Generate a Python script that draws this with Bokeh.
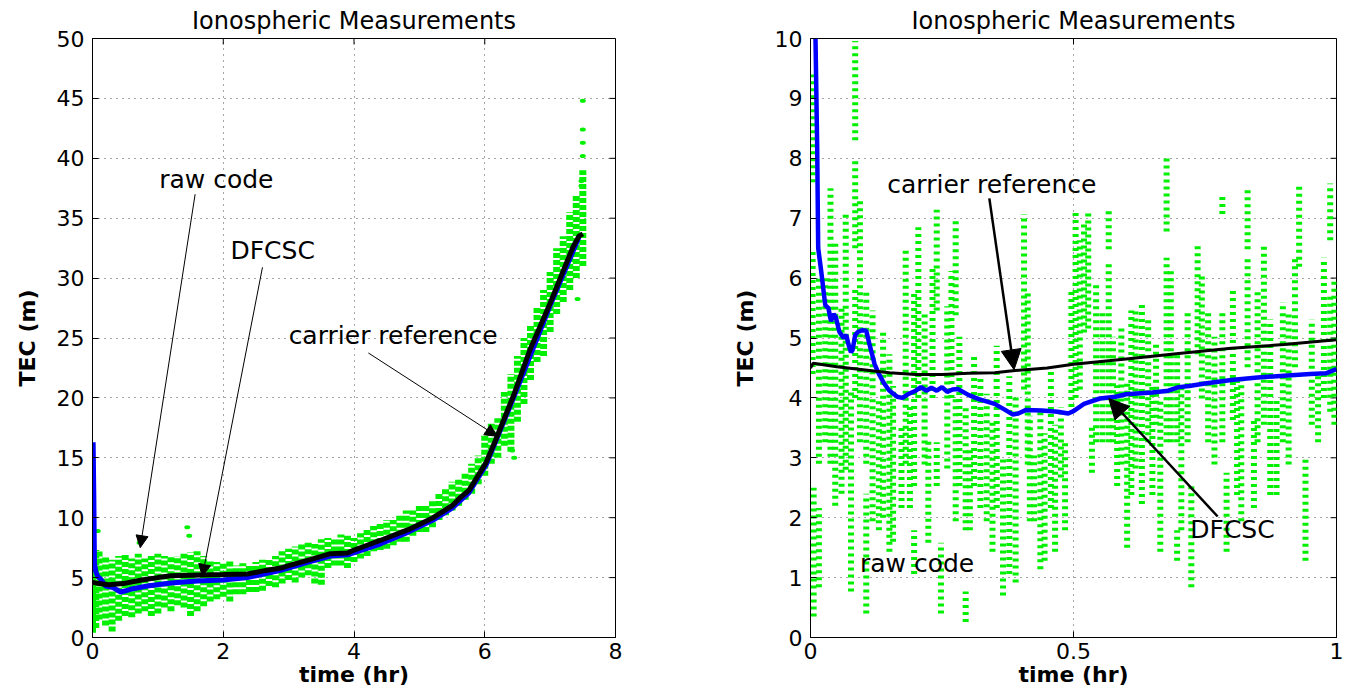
import math
from bokeh.plotting import figure
from bokeh.models import (FixedTicker, Arrow, NormalHead, Label,
                          Range1d, NumeralTickFormatter)
from bokeh.layouts import row
from bokeh.embed import file_html
from bokeh.resources import INLINE

# ---------------- data: left panel (full pass) ----------------
left_ref_t = [0, 0.1, 0.25, 0.47, 0.75, 1.0, 1.2, 1.5, 2.0, 2.37, 2.65, 2.88, 3.0, 3.33,
              3.64, 3.9, 4.0, 4.2, 4.4, 4.83, 5.21, 5.5, 5.63, 5.76, 6.02, 6.16, 6.3,
              6.44, 6.69, 7.0, 7.2, 7.35, 7.44, 7.5]
left_ref_y = [4.6, 4.5, 4.4, 4.5, 4.8, 5.0, 5.15, 5.2, 5.25, 5.3, 5.6, 5.8, 6.0, 6.5,
              7.0, 7.05, 7.3, 7.7, 8.1, 9.0, 10.0, 11.0, 11.7, 12.3, 14.6, 16.4, 18.3,
              20.2, 24.0, 27.9, 30.6, 32.6, 33.5, 33.7]

left_dfcsc_t = [0.01, 0.02, 0.03, 0.05, 0.08, 0.12, 0.2, 0.3, 0.43, 0.51, 0.6, 0.84, 1.2,
                1.6, 2.0, 2.37, 2.88, 3.3, 3.64, 3.9, 4.4, 4.83, 5.21, 5.5, 5.76, 6.02,
                6.44, 7.0, 7.44]
left_dfcsc_y = [16.3, 12.0, 6.2, 5.5, 5.1, 4.9, 4.3, 4.2, 3.8, 3.9, 4.05, 4.3, 4.55,
                4.72, 4.8, 5.0, 5.6, 6.3, 6.8, 6.9, 7.8, 8.8, 9.8, 10.8, 12.1, 14.4,
                20.0, 27.7, 33.4]

# raw code: spread of the code samples at each time (low / high edge)
left_raw_t = [0.00, 0.05, 0.10, 0.20, 0.30, 0.40, 0.50, 0.60, 0.70, 0.80, 0.90, 1.00,
              1.10, 1.20, 1.30, 1.40, 1.50, 1.60, 1.70, 1.80, 1.90, 2.00, 2.10, 2.20,
              2.30, 2.40, 2.50, 2.60, 2.70, 2.80, 2.90, 3.00, 3.10, 3.20, 3.30, 3.40,
              3.50, 3.60, 3.70, 3.80, 3.90, 4.00, 4.10, 4.20, 4.30, 4.40, 4.50, 4.60,
              4.70, 4.80, 4.90, 5.00, 5.10, 5.20, 5.30, 5.40, 5.50, 5.60, 5.70, 5.80,
              5.90, 6.00, 6.10, 6.20, 6.30, 6.40, 6.50, 6.60, 6.70, 6.80, 6.90, 7.00,
              7.10, 7.20, 7.30, 7.40, 7.50]
left_raw_lo = [0.4, 0.8, 1.5, 1.0, 0.5, 1.4, 1.8, 1.7, 2.0, 2.2, 1.8, 2.0,
               2.5, 2.2, 2.7, 2.5, 1.8, 2.2, 2.6, 3.0, 3.2, 3.4, 3.0, 3.6,
               3.6, 3.8, 3.8, 3.9, 4.3, 4.2, 4.5, 4.8, 4.6, 5.0, 5.2, 4.5,
               4.4, 5.8, 6.0, 6.0, 5.8, 6.3, 6.6, 6.8, 7.2, 7.3, 7.4, 7.7,
               8.0, 8.0, 8.5, 8.8, 8.8, 9.2, 9.8, 10.2, 10.6, 11.0, 11.5, 12.0,
               12.8, 13.5, 14.5, 15.0, 16.0, 15.5, 18.0, 19.5, 21.5, 23.0, 23.5, 25.5,
               27.0, 28.0, 29.0, 30.0, 31.0]
left_raw_hi = [6.0, 7.3, 7.2, 6.8, 6.5, 6.8, 7.0, 6.6, 7.0, 6.6, 6.8, 7.0,
               6.8, 6.8, 6.8, 7.0, 7.1, 7.2, 6.8, 6.5, 6.3, 6.2, 6.4, 6.0,
               6.2, 6.0, 6.3, 6.5, 6.5, 6.8, 7.2, 7.4, 7.6, 7.8, 7.9, 7.8,
               8.2, 8.3, 8.2, 8.6, 8.5, 8.3, 8.7, 9.0, 9.3, 9.6, 9.8, 9.8,
               10.2, 10.6, 10.6, 11.0, 11.0, 11.5, 12.0, 12.4, 13.0, 13.3, 13.8, 14.5,
               15.2, 17.0, 18.0, 18.3, 20.5, 22.0, 23.5, 25.0, 26.0, 27.5, 29.0, 30.5,
               32.5, 33.5, 35.5, 37.0, 39.0]
# isolated raw code samples
left_out_t = [0.0, 0.08, 0.72, 1.45, 1.48, 6.42, 6.45, 7.42, 7.48, 7.48, 7.5, 7.5, 7.5, 7.5]
left_out_y = [14.8, 8.9, 7.9, 9.2, 8.5, 15.6, 15.0, 28.25, 37.7, 38.1, 40.2, 41.3, 42.4, 44.8]

# ---------------- data: right panel (first hour) ----------------
right_ref_t = [0, 0.005, 0.05, 0.1, 0.15, 0.2, 0.25, 0.3, 0.35, 0.38, 0.45, 0.5, 0.6,
               0.7, 0.8, 0.9, 1.0]
right_ref_y = [4.5, 4.58, 4.52, 4.47, 4.42, 4.39, 4.39, 4.41, 4.42, 4.45, 4.5, 4.56,
               4.65, 4.74, 4.83, 4.89, 4.97]

right_dfcsc_t = [0.004, 0.0095, 0.0127, 0.0146, 0.021, 0.028, 0.034, 0.039, 0.044, 0.048,
                 0.055, 0.063, 0.068, 0.072, 0.077, 0.080, 0.085, 0.09, 0.098, 0.106,
                 0.112, 0.122, 0.13, 0.14, 0.15, 0.165, 0.175, 0.185, 0.2, 0.21,
                 0.22, 0.23, 0.24, 0.25, 0.26, 0.27, 0.28, 0.29, 0.3, 0.32,
                 0.35, 0.37, 0.385, 0.395, 0.41, 0.44, 0.47, 0.49, 0.5, 0.52,
                 0.55, 0.58, 0.6, 0.65, 0.68, 0.7, 0.72, 0.75, 0.8, 0.85,
                 0.9, 0.95, 0.98, 1.0]
right_dfcsc_y = [14, 10.0, 8.2, 6.5, 6.07, 5.55, 5.5, 5.28, 5.4, 5.35,
                 5.1, 5.0, 5.05, 4.9, 4.76, 4.8, 5.05, 5.1, 5.13, 5.12,
                 4.9, 4.56, 4.4, 4.24, 4.12, 4.02, 4.0, 4.06, 4.12, 4.18,
                 4.12, 4.17, 4.12, 4.18, 4.1, 4.14, 4.15, 4.1, 4.05, 3.98,
                 3.9, 3.8, 3.72, 3.74, 3.8, 3.79, 3.77, 3.74, 3.78, 3.9,
                 3.99, 4.02, 4.06, 4.09, 4.12, 4.18, 4.2, 4.24, 4.3, 4.34,
                 4.37, 4.4, 4.41, 4.48]

right_raw_t = [0.004, 0.004, 0.006, 0.016, 0.016, 0.028, 0.038, 0.047, 0.059, 0.067,
               0.077, 0.085, 0.085, 0.085, 0.094, 0.106, 0.106, 0.118, 0.130, 0.138,
               0.150, 0.157, 0.173, 0.181, 0.189, 0.197, 0.197, 0.205, 0.217, 0.224,
               0.232, 0.240, 0.240, 0.248, 0.260, 0.268, 0.276, 0.276, 0.283, 0.295,
               0.295, 0.303, 0.311, 0.323, 0.335, 0.346, 0.354, 0.366, 0.378, 0.390,
               0.406, 0.413, 0.417, 0.425, 0.437, 0.445, 0.457, 0.465, 0.476, 0.484,
               0.496, 0.504, 0.512, 0.520, 0.528, 0.535, 0.543, 0.555, 0.567, 0.567,
               0.575, 0.583, 0.591, 0.602, 0.610, 0.618, 0.630, 0.642, 0.650, 0.657,
               0.665, 0.677, 0.677, 0.685, 0.697, 0.697, 0.705, 0.717, 0.724, 0.736,
               0.744, 0.756, 0.768, 0.783, 0.783, 0.791, 0.803, 0.811, 0.819, 0.831,
               0.831, 0.843, 0.850, 0.862, 0.874, 0.886, 0.898, 0.909, 0.921, 0.929,
               0.941, 0.953, 0.965, 0.976, 0.988, 0.988, 0.996]
right_raw_lo = [7.6, 4.4, 0.35, 2.9, 0.84, 3.26, 2.9, 2.2, 2.4, 2.8,
                0.77, 8.3, 6.5, 4.0, 3.26, 2.9, 0.4, 1.94, 1.79, 2.0,
                1.43, 1.6, 2.16, 2.9, 2.16, 2.53, 1.06, 4.0, 2.89, 1.58,
                4.0, 5.46, 2.53, 0.4, 2.82, 4.0, 5.38, 1.94, 2.53, 1.79,
                0.26, 1.79, 2.53, 2.16, 1.94, 1.43, 2.16, 0.7, 1.06, 0.92,
                4.14, 2.89, 1.94, 1.94, 1.14, 1.28, 2.16, 1.43, 2.67, 1.79,
                3.85, 4.0, 4.14, 5.09, 5.16, 2.75, 3.26, 3.26, 6.48, 3.26,
                3.26, 2.53, 2.89, 1.5, 2.38, 2.82, 2.23, 3.26, 2.38, 3.55,
                1.43, 6.78, 3.26, 3.26, 3.26, 1.28, 1.79, 3.26, 0.84, 4.73,
                3.99, 3.26, 2.89, 7.07, 3.26, 1.43, 3.63, 2.38, 1.94, 6.48,
                4.51, 2.16, 3.26, 3.55, 2.38, 2.38, 3.26, 2.89, 4.51, 6.19,
                1.28, 3.55, 3.26, 4.0, 6.63, 3.77, 3.55]
right_raw_hi = [9.4, 6.5, 2.5, 6.0, 2.16, 6.05, 7.5, 6.6, 5.5, 7.1,
                4.1, 9.96, 7.95, 5.8, 7.3, 5.8, 2.4, 5.46, 3.99, 5.1,
                4.73, 4.2, 3.55, 6.48, 3.85, 5.75, 1.79, 6.85, 5.46, 3.33,
                6.19, 7.14, 3.26, 1.58, 5.53, 6.12, 7.0, 3.99, 5.02, 3.85,
                0.77, 3.19, 4.73, 4.36, 4.07, 3.63, 4.87, 3.04, 4.36, 4.07,
                7.07, 5.75, 3.70, 3.04, 3.77, 3.41, 4.51, 3.55, 3.85, 3.26,
                5.82, 7.14, 6.63, 6.92, 7.14, 3.55, 5.9, 5.46, 7.14, 6.26,
                5.02, 4.21, 5.16, 4.29, 5.46, 5.46, 5.6, 5.31, 4.21, 4.95,
                3.99, 8.02, 6.34, 6.12, 4.73, 1.79, 4.21, 5.46, 2.53, 6.56,
                6.04, 5.46, 5.02, 7.36, 5.46, 2.75, 5.82, 4.36, 4.29, 7.51,
                6.34, 3.63, 5.82, 6.56, 5.31, 3.99, 5.6, 5.46, 6.34, 7.58,
                2.97, 5.31, 4.36, 6.34, 7.58, 5.75, 5.97]

left_xticks = [0, 2, 4, 6, 8]
left_yticks = [0, 5, 10, 15, 20, 25, 30, 35, 40, 45, 50]
right_xticks = [0, 0.5, 1]
right_yticks = [0, 1, 2, 3, 4, 5, 6, 7, 8, 9, 10]

FONT = "DejaVu Sans"
GREEN = "#00f000"


def make_fig(width, min_left, min_right, xr, yr, xticks, yticks):
    p = figure(width=width, height=692, x_range=Range1d(*xr), y_range=Range1d(*yr),
               output_backend="svg", toolbar_location=None,
               min_border_left=min_left, min_border_right=min_right,
               min_border_top=37, min_border_bottom=55,
               title="Ionospheric Measurements")
    p.background_fill_color = "white"
    p.border_fill_color = "white"
    p.outline_line_color = "black"
    p.outline_line_width = 1
    p.title.align = "center"
    p.title.text_font = FONT
    p.title.text_font_size = "24px"
    p.title.text_font_style = "normal"
    p.title.text_color = "black"
    p.title.standoff = 8
    p.xaxis.ticker = FixedTicker(ticks=xticks)
    p.yaxis.ticker = FixedTicker(ticks=yticks)
    for ax in list(p.xaxis) + list(p.yaxis):
        ax.major_tick_in = 6
        ax.major_tick_out = 0
        ax.minor_tick_line_color = None
        ax.axis_line_color = "black"
        ax.major_tick_line_color = "black"
        ax.major_label_text_font = FONT
        ax.major_label_text_font_size = "22px"
        ax.major_label_text_color = "black"
        ax.axis_label_text_font = FONT
        ax.axis_label_text_font_size = "22px"
        ax.axis_label_text_font_style = "bold"
        ax.axis_label_text_color = "black"
    p.xaxis.axis_label = "time (hr)"
    p.xaxis.major_label_standoff = 5
    p.xaxis.axis_label_standoff = 0
    p.yaxis.axis_label = "TEC (m)"
    p.yaxis.major_label_standoff = 8
    p.yaxis.axis_label_standoff = 14
    p.xgrid.ticker = FixedTicker(ticks=xticks)
    p.ygrid.ticker = FixedTicker(ticks=yticks)
    for g in (p.xgrid, p.ygrid):
        g.grid_line_color = "black"
        g.grid_line_alpha = 0.7
        g.grid_line_dash = "1 5"
        g.grid_line_width = 1
    # inward tick marks on the top and right edges of the box
    p.ray(x=xticks, y=[yr[1]] * len(xticks), length=6, length_units="screen",
          angle=-math.pi / 2, line_color="black", line_width=1)
    p.ray(x=[xr[1]] * len(yticks), y=yticks, length=6, length_units="screen",
          angle=math.pi, line_color="black", line_width=1)
    return p


def arrow(p, xs, ys, xe, ye, lw, size):
    p.add_layout(Arrow(end=NormalHead(size=size, fill_color="black", line_color="black"),
                       x_start=xs, y_start=ys, x_end=xe, y_end=ye,
                       line_color="black", line_width=lw))


def label(p, x, y, text):
    p.add_layout(Label(x=x, y=y, text=text, text_font=FONT, text_font_size="25px",
                       text_baseline="middle", text_align="left", text_color="black"))


# ---------------- left figure ----------------
p1 = make_fig(700, 92, 85, (0, 8), (0, 50), left_xticks, left_yticks)
p1.segment(x0=left_raw_t, y0=left_raw_lo, x1=left_raw_t, y1=left_raw_hi,
           line_color=GREEN, line_width=7, line_dash="5 2")
p1.ellipse(x=left_out_t, y=left_out_y, width=6, height=4, width_units="screen",
           height_units="screen", fill_color=GREEN, line_color=None)
p1.line(left_dfcsc_t, left_dfcsc_y, line_color="#0000ff", line_width=5)
p1.line(left_ref_t, left_ref_y, line_color="black", line_width=5)
label(p1, 1.02, 38.2, "raw code")
arrow(p1, 1.57, 37.0, 0.73, 7.5, 1, 12)
label(p1, 2.11, 32.3, "DFCSC")
arrow(p1, 2.60, 30.9, 1.68, 5.1, 1, 12)
label(p1, 3.0, 25.25, "carrier reference")
arrow(p1, 4.22, 23.75, 6.19, 16.8, 1, 12)

# ---------------- right figure ----------------
p2 = make_fig(646, 110, 10, (0, 1), (0, 10), right_xticks, right_yticks)
p2.xaxis.formatter = NumeralTickFormatter(format="0.[0]")
p2.segment(x0=right_raw_t, y0=right_raw_lo, x1=right_raw_t, y1=right_raw_hi,
           line_color=GREEN, line_width=6, line_dash="3 4")
p2.line(right_dfcsc_t, right_dfcsc_y, line_color="#0000ff", line_width=4.5)
p2.line(right_ref_t, right_ref_y, line_color="black", line_width=3)
label(p2, 0.146, 7.57, "carrier reference")
arrow(p2, 0.34, 7.33, 0.387, 4.47, 2.5, 20)
label(p2, 0.722, 1.8, "DFCSC")
arrow(p2, 0.774, 2.02, 0.567, 3.99, 2.5, 20)
label(p2, 0.094, 1.23, "raw code")

layout = row(p1, p2)
open("out.html", "w").write(file_html(layout, INLINE))
